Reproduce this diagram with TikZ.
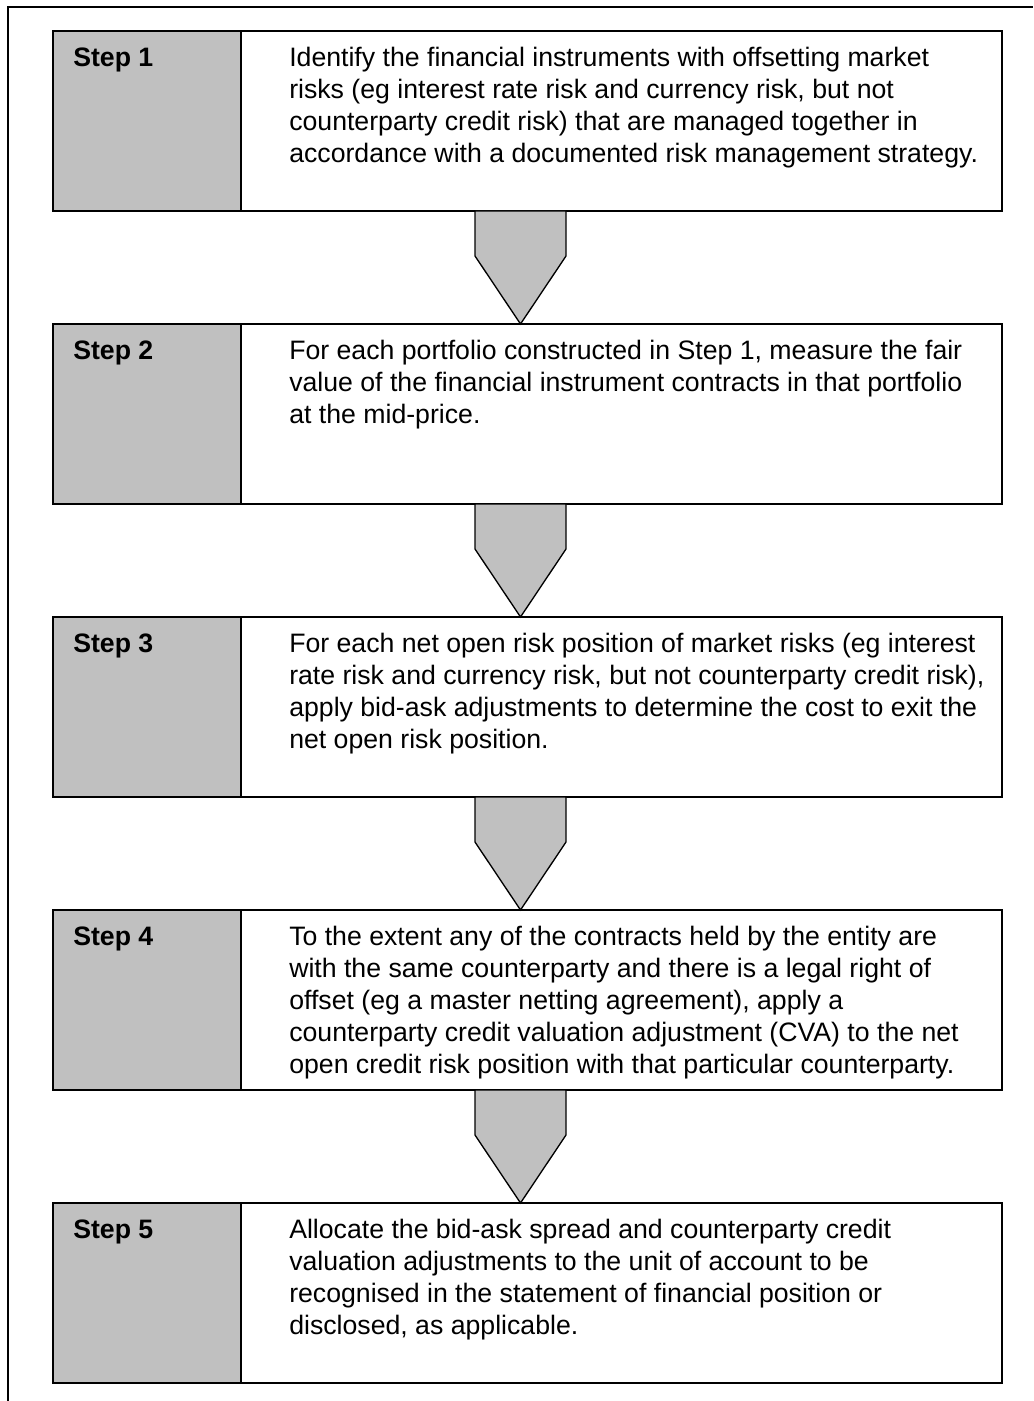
\documentclass[tikz,border=0pt]{standalone}
\usepackage{fontspec}
\setmainfont{Liberation Sans}
\usetikzlibrary{calc}
\definecolor{boxgray}{RGB}{192,192,192}
\tikzset{
  graybox/.style={draw=black, line width=1.5pt, fill=boxgray, minimum width=141pt, minimum height=135pt, inner sep=0pt, outer sep=0pt, anchor=north west},
  whitebox/.style={draw=black, line width=1.5pt, fill=white, minimum width=570.75pt, minimum height=135pt, inner sep=0pt, outer sep=0pt, anchor=north west},
  steplabel/.style={font=\fontsize{20}{24}\selectfont\bfseries, inner sep=0pt, anchor=north west, align=left},
  bodytext/.style={font=\fontsize{20}{24}\selectfont, inner sep=0pt, anchor=north west, align=left},
  arrowshape/.style={draw=black, line width=1pt, fill=boxgray, line join=miter}
}
\begin{document}
\begin{tikzpicture}[x=0.75pt, y=-0.75pt]
\useasboundingbox (0,0) rectangle (1033,1401);
\draw[line width=1.5pt] (8,1401) -- (8,7) -- (1033,7);

% Step 1
\node[graybox] (g1) at (53,31) {};
\node[whitebox] (w1) at (241,31) {};
\node[steplabel] (l1) at (73,43.6) {\strut Step 1};
\node[bodytext] (t1) at (289,43.6) {\strut Identify the financial instruments with offsetting market\\
risks (eg interest rate risk and currency risk, but not\\
counterparty credit risk) that are managed together in\\
accordance with a documented risk management strategy.};

% Step 2
\node[graybox] (g2) at (53,324) {};
\node[whitebox] (w2) at (241,324) {};
\node[steplabel] (l2) at (73,336.6) {\strut Step 2};
\node[bodytext] (t2) at (289,336.6) {\strut For each portfolio constructed in Step 1, measure the fair\\
value of the financial instrument contracts in that portfolio\\
at the mid-price.};

% Step 3
\node[graybox] (g3) at (53,617) {};
\node[whitebox] (w3) at (241,617) {};
\node[steplabel] (l3) at (73,629.6) {\strut Step 3};
\node[bodytext] (t3) at (289,629.6) {\strut For each net open risk position of market risks (eg interest\\
rate risk and currency risk, but not counterparty credit risk),\\
apply bid-ask adjustments to determine the cost to exit the\\
net open risk position.};

% Step 4
\node[graybox] (g4) at (53,910) {};
\node[whitebox] (w4) at (241,910) {};
\node[steplabel] (l4) at (73,922.6) {\strut Step 4};
\node[bodytext] (t4) at (289,922.6) {\strut To the extent any of the contracts held by the entity are\\
with the same counterparty and there is a legal right of\\
offset (eg a master netting agreement), apply a\\
counterparty credit valuation adjustment (CVA) to the net\\
open credit risk position with that particular counterparty.};

% Step 5
\node[graybox] (g5) at (53,1203) {};
\node[whitebox] (w5) at (241,1203) {};
\node[steplabel] (l5) at (73,1215.6) {\strut Step 5};
\node[bodytext] (t5) at (289,1215.6) {\strut Allocate the bid-ask spread and counterparty credit\\
valuation adjustments to the unit of account to be\\
recognised in the statement of financial position or\\
disclosed, as applicable.};

% Arrows between steps
\foreach \i in {1,2,3,4} {
  \path (g\i.south west) ++(422,0) coordinate (a\i);
  \draw[arrowshape] (a\i) -- ++(91,0) -- ++(0,45) -- ++(-45.5,68) -- ++(-45.5,-68) -- cycle;
}
\end{tikzpicture}
\end{document}
